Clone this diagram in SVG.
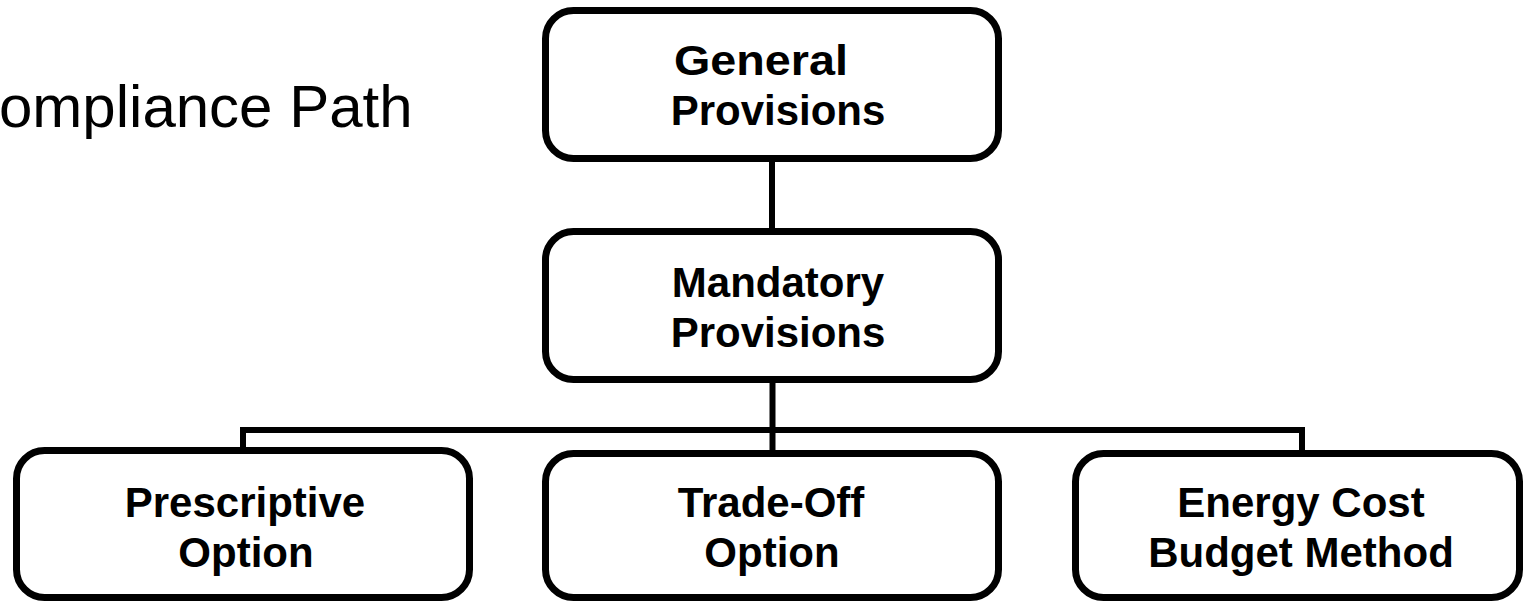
<svg xmlns="http://www.w3.org/2000/svg" width="1525" height="603" viewBox="0 0 1525 603">
<style>
.box{fill:#fff;stroke:#000;stroke-width:7}
.lbl{font-family:"Liberation Sans",Arial,sans-serif;font-weight:bold;font-size:42px;text-anchor:middle;fill:#000}
.title{font-family:"Liberation Sans",Arial,sans-serif;font-size:60px;fill:#000}
.conn{stroke:#000;stroke-width:6;fill:none}
</style>
<rect width="1525" height="603" fill="#fff"/>
<text class="title" x="-1" y="127">ompliance Path</text>
<g id="connectors">
<line class="conn" x1="772" y1="160" x2="772" y2="230"/>
<line class="conn" x1="772.5" y1="381" x2="772.5" y2="452"/>
<polyline class="conn" points="243,449 243,430 1302,430 1302,452"/>
</g>
<g id="general">
<rect class="box" x="545.5" y="10.5" width="453" height="148" rx="28"/>
<text class="lbl" x="761" y="75" textLength="174" lengthAdjust="spacingAndGlyphs">General</text>
<text class="lbl" x="778" y="125">Provisions</text>
</g>
<g id="mandatory">
<rect class="box" x="545.5" y="231.5" width="453" height="148" rx="28"/>
<text class="lbl" x="778" y="297">Mandatory</text>
<text class="lbl" x="778" y="347">Provisions</text>
</g>
<g id="prescriptive">
<rect class="box" x="16.5" y="450.5" width="453" height="147" rx="28"/>
<text class="lbl" x="245" y="517">Prescriptive</text>
<text class="lbl" x="246" y="567">Option</text>
</g>
<g id="tradeoff">
<rect class="box" x="545.5" y="453.5" width="453" height="144" rx="28"/>
<text class="lbl" x="771" y="517">Trade-Off</text>
<text class="lbl" x="772" y="567">Option</text>
</g>
<g id="energy">
<rect class="box" x="1075.5" y="453.5" width="444" height="144" rx="28"/>
<text class="lbl" x="1301" y="517">Energy Cost</text>
<text class="lbl" x="1301" y="567">Budget Method</text>
</g>
</svg>
